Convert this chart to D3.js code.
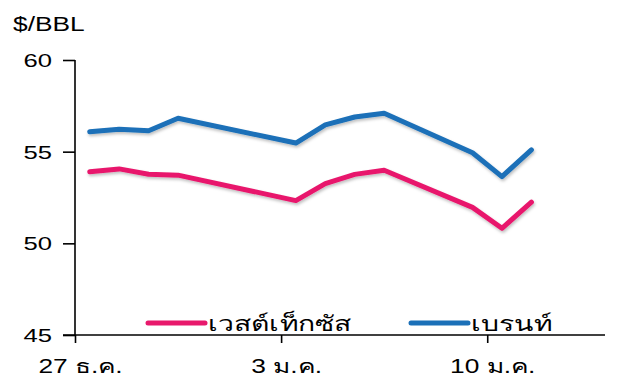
<!DOCTYPE html>
<html><head><meta charset="utf-8">
<script src="https://cdn.jsdelivr.net/npm/d3@7"></script>
<style>body{margin:0;background:#fff}svg{display:block}text{font-family:"Liberation Sans",Arial,sans-serif;fill:#000}</style>
</head><body><svg id="c" width="640" height="390"></svg>
<script>
const dates = ["2016-12-27","2016-12-28","2016-12-29","2016-12-30","2017-01-03","2017-01-04","2017-01-05","2017-01-06","2017-01-09","2017-01-10","2017-01-11"];
const wti = [53.90,54.06,53.77,53.72,52.33,53.26,53.76,53.99,51.96,50.82,52.25];
const brent = [56.09,56.22,56.14,56.82,55.47,56.46,56.89,57.10,54.94,53.64,55.10];
const seriesNames = ["เวสต์เท็กซัส","เบรนท์"];
const seriesColors = ["#e8196c","#1b70b8"];
const xTickDates = ["2016-12-27","2017-01-03","2017-01-10"];
const xTickLabels = ["27 ธ.ค.","3 ม.ค.","10 ม.ค."];
const yTicks = [45,50,55,60];
const yTitle = "$/BBL";

const parse = d3.utcParse("%Y-%m-%d");
const svg = d3.select("#c");
const SX = 1.35;
const x = d3.scaleUtc().domain([parse("2016-12-27"), parse("2017-01-14")]).range([75,605]);
const y = d3.scaleLinear().domain([45,60]).range([335,60]);

function stretch(sel, dx){
  dx = dx||0;
  sel.each(function(){
    const t=d3.select(this);
    const tx=(+t.attr("x")||0)+dx;
    t.attr("x",0).attr("transform",`translate(${tx},0) scale(${SX},1)`);
  });
}

// y axis
const gy = svg.append("g").attr("transform","translate(75,0)")
  .call(d3.axisLeft(y).tickValues(yTicks).tickSize(12).tickPadding(11).tickFormat(d3.format("d")));
gy.select(".domain").attr("stroke","#000").attr("stroke-width",1.6).attr("d","M0,60V335");
gy.selectAll(".tick line").attr("stroke","#000").attr("stroke-width",1.6);
gy.selectAll("text").attr("font-size",19).attr("font-family","Liberation Sans, Arial, sans-serif").attr("dy","0.35em").call(stretch);

// x axis
const gx = svg.append("g").attr("transform","translate(0,335)")
  .call(d3.axisBottom(x).tickValues(xTickDates.map(parse)).tickSize(8).tickPadding(16)
    .tickFormat((d,i)=>xTickLabels[i]));
gx.select(".domain").attr("stroke","#000").attr("stroke-width",1.6).attr("d","M63,0H605");
gx.selectAll(".tick line").attr("stroke","#000").attr("stroke-width",1.6);
gx.selectAll("text").attr("font-size",19.5).attr("font-family","Liberation Sans, Arial, sans-serif").call(stretch, 5);

// title
svg.append("text").attr("x",13).attr("y",31).attr("font-size",19.5).text(yTitle).call(stretch);

// shadow filter
const defs = svg.append("defs");
const f = defs.append("filter").attr("id","sh").attr("x","-10%").attr("y","-10%").attr("width","120%").attr("height","130%");
f.append("feDropShadow").attr("dx",1).attr("dy",2).attr("stdDeviation",1.5).attr("flood-color","#000").attr("flood-opacity",0.25);

const half = 12*3600*1000;
const line = d3.line().x(d=>x(new Date(parse(d.date).getTime()+half))).y(d=>y(d.v));
[wti,brent].forEach((vals,i)=>{
  const data = dates.map((d,j)=>({date:d,v:vals[j]}));
  svg.append("path").datum(data).attr("d",line).attr("fill","none")
    .attr("stroke",seriesColors[i]).attr("stroke-width",5).attr("stroke-linejoin","round").attr("stroke-linecap","round")
    .attr("filter","url(#sh)");
});

// legend
const legX = [148,411];
seriesNames.forEach((n,i)=>{
  const g = svg.append("g");
  g.append("line").attr("x1",legX[i]).attr("x2",legX[i]+57).attr("y1",323).attr("y2",323)
    .attr("stroke",seriesColors[i]).attr("stroke-width",5).attr("stroke-linecap","round");
  g.append("text").attr("x",legX[i]+60).attr("y",331).attr("font-size",21).text(n).call(stretch);
});
</script></body></html>
